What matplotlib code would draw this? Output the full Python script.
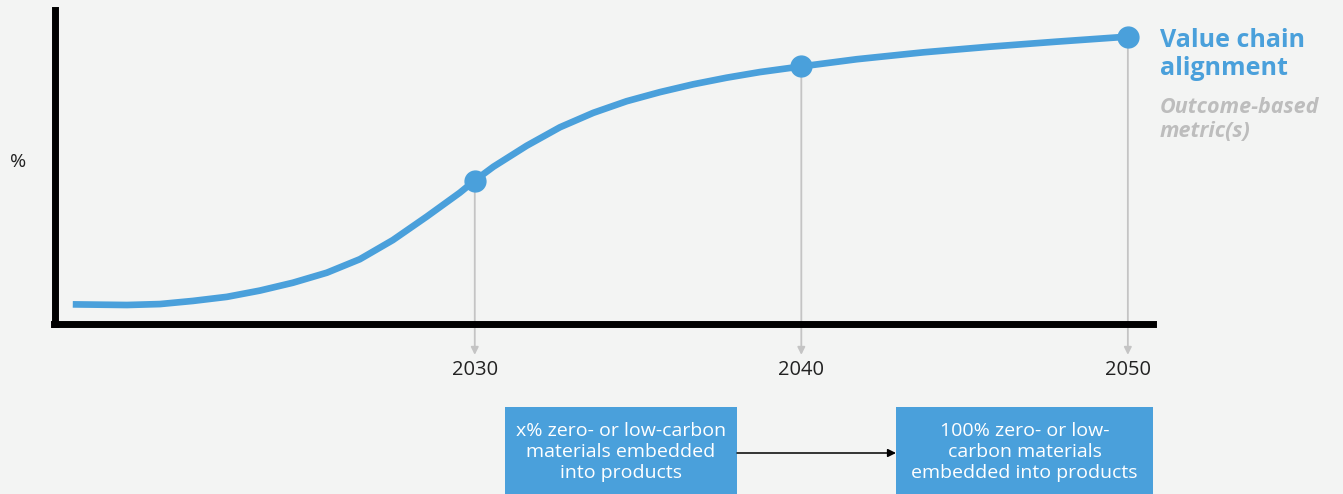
import matplotlib.pyplot as plt
from matplotlib.patches import Rectangle, FancyArrowPatch

# adoption curve for zero/low-carbon materials (share in %, by year)
years = [2017.69, 2019.35, 2020.36, 2021.37, 2022.41, 2023.42, 2024.43,
         2025.47, 2026.48, 2027.49, 2028.53, 2029.54, 2030, 2030.57,
         2031.59, 2032.61, 2033.63, 2034.65, 2035.67, 2036.69, 2037.71,
         2038.73, 2040, 2041.70, 2043.74, 2045.78, 2047.82, 2050]
share = [6.1, 5.9, 6.2, 7.2, 8.5, 10.5, 13.0,
         16.2, 20.5, 26.6, 34.1, 41.7, 45.6, 50.0,
         56.7, 62.6, 67.2, 70.9, 73.8, 76.3, 78.4,
         80.2, 82.0, 84.3, 86.5, 88.3, 89.9, 91.5]

milestones = [2030, 2040, 2050]
tick_labels = ["2030", "2040", "2050"]

title_lines = "Value chain\nalignment"
subtitle_lines = "Outcome-based\nmetric(s)"
box_texts = ["x% zero- or low-carbon\nmaterials embedded\ninto products",
             "100% zero- or low-\ncarbon materials\nembedded into products"]

BLUE = "#4aa0db"
BG = "#f3f4f3"
GREY = "#c4c4c4"
W, H = 1343, 494

plt.rcParams["font.family"] = ["Open Sans", "DejaVu Sans"]

fig = plt.figure(figsize=(W / 100, H / 100), dpi=100, facecolor=BG)
ax = fig.add_axes([54.5 / W, 1 - 323.5 / H, (1153 - 54.5) / W, 313.5 / H])
ax.set_facecolor(BG)
ax.set_xlim(2017.13, 2050.77)
ax.set_ylim(0, 100)

for side in ["top", "right"]:
    ax.spines[side].set_visible(False)
for side in ["left", "bottom"]:
    ax.spines[side].set_linewidth(5)
    ax.spines[side].set_color("black")
    ax.spines[side].set_capstyle("projecting")
    ax.spines[side].set_zorder(4)

ax.set_yticks([])
ax.set_xticks(milestones)
ax.set_xticklabels(tick_labels)
ax.tick_params(axis="x", length=0, pad=26, labelsize=14.5, labelcolor="#222222")

# the curve
ax.plot(years, share, color=BLUE, lw=4.8, solid_capstyle="butt",
        solid_joinstyle="round", zorder=5, clip_on=False)

# milestone markers with grey drop arrows
for yr in milestones:
    val = share[years.index(yr)]
    ax.annotate("", xy=(yr, -10), xytext=(yr, val), annotation_clip=False,
                arrowprops=dict(arrowstyle="-|>", color=GREY, lw=1.3,
                                mutation_scale=11, shrinkA=0, shrinkB=0),
                zorder=2)
    ax.plot(yr, val, "o", color=BLUE, ms=15, zorder=6, clip_on=False)

# y label
fig.text(18 / W, 1 - 162 / H, "%", fontsize=14, color="#222222",
         ha="center", va="center")

# right-hand labels
fig.text(1160 / W, 1 - 75 / H, title_lines, fontsize=18,
         fontweight="bold", color=BLUE, ha="left", va="baseline",
         linespacing=1.15)
fig.text(1160 / W, 1 - 137 / H, subtitle_lines, fontsize=15.5,
         fontweight="bold", fontstyle="italic", color="#bdbdbd",
         ha="left", va="baseline", linespacing=1.2)

# boxes along the bottom
boxes = [(505, 737), (896, 1153)]
for (x0, x1), txt in zip(boxes, box_texts):
    fig.add_artist(Rectangle((x0 / W, 0), (x1 - x0) / W, 87 / H,
                             transform=fig.transFigure, facecolor=BLUE,
                             edgecolor="none"))
    fig.text((x0 + x1) / 2 / W, 1 - 452 / H, txt, fontsize=14,
             color="white", ha="center", va="center", linespacing=1.2)

fig.add_artist(FancyArrowPatch(
    (737 / W, 1 - 453 / H), (896 / W, 1 - 453 / H),
    transform=fig.transFigure, arrowstyle="-|>", mutation_scale=12,
    color="black", lw=1.1, shrinkA=0, shrinkB=0))

fig.savefig("out.png", dpi=100, facecolor=BG)
